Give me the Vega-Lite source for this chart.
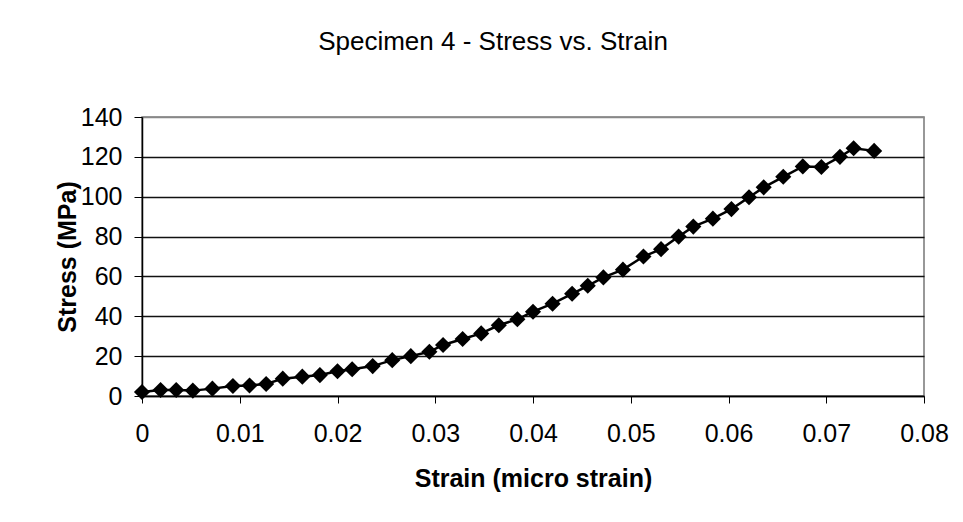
{
  "$schema": "https://vega.github.io/schema/vega-lite/v6.json",
  "autosize": "none",
  "width": 782,
  "height": 279,
  "padding": {"left": 142, "top": 117, "right": 39, "bottom": 126},
  "background": "white",
  "title": {
    "text": "Specimen 4 - Stress vs. Strain",
    "font": "Liberation Sans",
    "fontSize": 26,
    "fontWeight": "normal",
    "color": "black",
    "anchor": "middle",
    "frame": "group",
    "dx": -40,
    "baseline": "alphabetic",
    "offset": 29
  },
  "config": {
    "view": {"stroke": "#777", "strokeWidth": 1.5},
    "axis": {
      "labelFont": "Liberation Sans",
      "labelFontSize": 25,
      "labelColor": "black",
      "titleFont": "Liberation Sans",
      "titleFontSize": 25,
      "titleFontWeight": "bold",
      "titleColor": "black",
      "domainColor": "black",
      "domainWidth": 1.5,
      "tickColor": "black",
      "tickWidth": 1
    }
  },
  "data": {
    "values": [
      {"strain": 0.0, "stress": 2.0},
      {"strain": 0.0019, "stress": 3.0},
      {"strain": 0.0035, "stress": 3.0},
      {"strain": 0.0052, "stress": 2.7},
      {"strain": 0.0072, "stress": 3.7},
      {"strain": 0.0093, "stress": 5.0},
      {"strain": 0.0110, "stress": 5.3},
      {"strain": 0.0127, "stress": 6.0},
      {"strain": 0.0144, "stress": 8.7},
      {"strain": 0.0164, "stress": 9.7},
      {"strain": 0.0182, "stress": 10.5},
      {"strain": 0.0200, "stress": 12.4},
      {"strain": 0.0215, "stress": 13.4},
      {"strain": 0.0236, "stress": 15.0},
      {"strain": 0.0256, "stress": 18.0},
      {"strain": 0.0275, "stress": 20.0},
      {"strain": 0.0294, "stress": 22.2},
      {"strain": 0.0308, "stress": 25.6},
      {"strain": 0.0328, "stress": 28.6},
      {"strain": 0.0347, "stress": 31.4},
      {"strain": 0.0365, "stress": 35.5},
      {"strain": 0.0384, "stress": 38.5},
      {"strain": 0.0400, "stress": 42.3},
      {"strain": 0.0420, "stress": 46.3},
      {"strain": 0.0440, "stress": 51.3},
      {"strain": 0.0456, "stress": 55.3},
      {"strain": 0.0472, "stress": 59.5},
      {"strain": 0.0492, "stress": 63.4},
      {"strain": 0.0513, "stress": 70.0},
      {"strain": 0.0531, "stress": 73.7},
      {"strain": 0.0549, "stress": 80.0},
      {"strain": 0.0564, "stress": 85.0},
      {"strain": 0.0584, "stress": 89.0},
      {"strain": 0.0603, "stress": 93.8},
      {"strain": 0.0621, "stress": 99.7},
      {"strain": 0.0636, "stress": 104.7},
      {"strain": 0.0656, "stress": 110.0},
      {"strain": 0.0676, "stress": 115.2},
      {"strain": 0.0695, "stress": 114.9},
      {"strain": 0.0714, "stress": 120.0},
      {"strain": 0.0728, "stress": 124.3},
      {"strain": 0.0749, "stress": 123.0}
    ]
  },
  "encoding": {
    "x": {
      "field": "strain",
      "type": "quantitative",
      "title": "Strain (micro strain)",
      "scale": {"domain": [0, 0.08], "nice": false, "zero": false},
      "axis": {
        "values": [0, 0.01, 0.02, 0.03, 0.04, 0.05, 0.06, 0.07, 0.08],
        "format": "~g",
        "grid": false,
        "tickSize": 7,
        "labelPadding": 18,
        "titlePadding": 20,
        "labelFlush": false,
        "labelOverlap": false
      }
    },
    "y": {
      "field": "stress",
      "type": "quantitative",
      "title": "Stress (MPa)",
      "scale": {"domain": [0, 140], "nice": false},
      "axis": {
        "values": [0, 20, 40, 60, 80, 100, 120, 140],
        "grid": true,
        "gridColor": {"condition": {"test": "datum.value === 140", "value": "#888"}, "value": "#111"},
        "gridWidth": 1.3,
        "tickSize": 8,
        "labelPadding": 12,
        "titlePadding": 0,
        "labelFlush": false,
        "labelOverlap": false
      }
    }
  },
  "layer": [
    {"mark": {"type": "line", "color": "black", "strokeWidth": 2.5}},
    {"mark": {"type": "point", "shape": "diamond", "filled": true, "color": "black", "opacity": 1, "size": 260}}
  ]
}
